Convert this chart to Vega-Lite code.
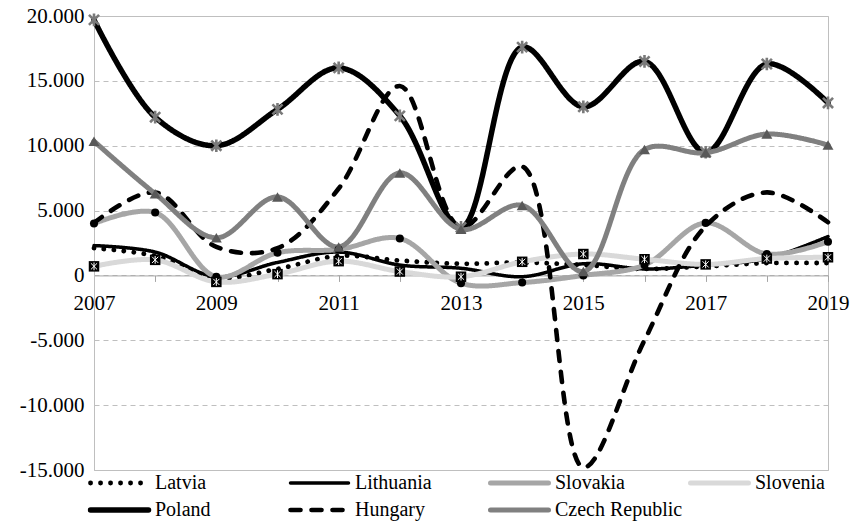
{
  "$schema": "https://vega.github.io/schema/vega-lite/v6.json",
  "width": 734,
  "height": 454,
  "autosize": {"type": "none"},
  "padding": {"left": 94, "top": 16, "right": 22, "bottom": 51},
  "background": "white",
  "config": {
    "view": {"stroke": "#bfbfbf", "strokeWidth": 1},
    "font": "Liberation Serif, Times New Roman, serif",
    "legend": {
      "direction": "horizontal",
      "columns": 4,
      "symbolType": "stroke",
      "symbolSize": 3364,
      "clipHeight": 20,
      "rowPadding": 7,
      "columnPadding": 5,
      "gridAlign": "all",
      "labelFontSize": 20,
      "labelFont": "Liberation Serif, Times New Roman, serif",
      "labelColor": "#000000",
      "labelOffset": 3.5,
      "padding": 0,
      "labelLimit": 300
    }
  },
  "data": {
    "values": [
      {"country": "Latvia", "year": 2007, "value": 2100},
      {"country": "Latvia", "year": 2008, "value": 1500},
      {"country": "Latvia", "year": 2009, "value": -200},
      {"country": "Latvia", "year": 2010, "value": 500},
      {"country": "Latvia", "year": 2011, "value": 1500},
      {"country": "Latvia", "year": 2012, "value": 1150},
      {"country": "Latvia", "year": 2013, "value": 900},
      {"country": "Latvia", "year": 2014, "value": 1000},
      {"country": "Latvia", "year": 2015, "value": 800},
      {"country": "Latvia", "year": 2016, "value": 500},
      {"country": "Latvia", "year": 2017, "value": 700},
      {"country": "Latvia", "year": 2018, "value": 950},
      {"country": "Latvia", "year": 2019, "value": 950},
      {"country": "Lithuania", "year": 2007, "value": 2300},
      {"country": "Lithuania", "year": 2008, "value": 1800},
      {"country": "Lithuania", "year": 2009, "value": -100},
      {"country": "Lithuania", "year": 2010, "value": 1000},
      {"country": "Lithuania", "year": 2011, "value": 1800},
      {"country": "Lithuania", "year": 2012, "value": 800},
      {"country": "Lithuania", "year": 2013, "value": 550},
      {"country": "Lithuania", "year": 2014, "value": -100},
      {"country": "Lithuania", "year": 2015, "value": 900},
      {"country": "Lithuania", "year": 2016, "value": 500},
      {"country": "Lithuania", "year": 2017, "value": 800},
      {"country": "Lithuania", "year": 2018, "value": 1300},
      {"country": "Lithuania", "year": 2019, "value": 3000},
      {"country": "Slovakia", "year": 2007, "value": 4000},
      {"country": "Slovakia", "year": 2008, "value": 4850},
      {"country": "Slovakia", "year": 2009, "value": -100},
      {"country": "Slovakia", "year": 2010, "value": 1750},
      {"country": "Slovakia", "year": 2011, "value": 2000},
      {"country": "Slovakia", "year": 2012, "value": 2850},
      {"country": "Slovakia", "year": 2013, "value": -600},
      {"country": "Slovakia", "year": 2014, "value": -550},
      {"country": "Slovakia", "year": 2015, "value": 0},
      {"country": "Slovakia", "year": 2016, "value": 800},
      {"country": "Slovakia", "year": 2017, "value": 4050},
      {"country": "Slovakia", "year": 2018, "value": 1650},
      {"country": "Slovakia", "year": 2019, "value": 2600},
      {"country": "Slovenia", "year": 2007, "value": 700},
      {"country": "Slovenia", "year": 2008, "value": 1200},
      {"country": "Slovenia", "year": 2009, "value": -500},
      {"country": "Slovenia", "year": 2010, "value": 100},
      {"country": "Slovenia", "year": 2011, "value": 1100},
      {"country": "Slovenia", "year": 2012, "value": 300},
      {"country": "Slovenia", "year": 2013, "value": -100},
      {"country": "Slovenia", "year": 2014, "value": 1050},
      {"country": "Slovenia", "year": 2015, "value": 1650},
      {"country": "Slovenia", "year": 2016, "value": 1250},
      {"country": "Slovenia", "year": 2017, "value": 850},
      {"country": "Slovenia", "year": 2018, "value": 1300},
      {"country": "Slovenia", "year": 2019, "value": 1400},
      {"country": "Poland", "year": 2007, "value": 19700},
      {"country": "Poland", "year": 2008, "value": 12200},
      {"country": "Poland", "year": 2009, "value": 10000},
      {"country": "Poland", "year": 2010, "value": 12800},
      {"country": "Poland", "year": 2011, "value": 16000},
      {"country": "Poland", "year": 2012, "value": 12300},
      {"country": "Poland", "year": 2013, "value": 3700},
      {"country": "Poland", "year": 2014, "value": 17600},
      {"country": "Poland", "year": 2015, "value": 13000},
      {"country": "Poland", "year": 2016, "value": 16500},
      {"country": "Poland", "year": 2017, "value": 9500},
      {"country": "Poland", "year": 2018, "value": 16300},
      {"country": "Poland", "year": 2019, "value": 13300},
      {"country": "Hungary", "year": 2007, "value": 4050},
      {"country": "Hungary", "year": 2008, "value": 6400},
      {"country": "Hungary", "year": 2009, "value": 2200},
      {"country": "Hungary", "year": 2010, "value": 2100},
      {"country": "Hungary", "year": 2011, "value": 6700},
      {"country": "Hungary", "year": 2012, "value": 14600},
      {"country": "Hungary", "year": 2013, "value": 3700},
      {"country": "Hungary", "year": 2014, "value": 8400},
      {"country": "Hungary", "year": 2015, "value": -14800},
      {"country": "Hungary", "year": 2016, "value": -5000},
      {"country": "Hungary", "year": 2017, "value": 3800},
      {"country": "Hungary", "year": 2018, "value": 6400},
      {"country": "Hungary", "year": 2019, "value": 4100},
      {"country": "Czech Republic", "year": 2007, "value": 10350},
      {"country": "Czech Republic", "year": 2008, "value": 6300},
      {"country": "Czech Republic", "year": 2009, "value": 2900},
      {"country": "Czech Republic", "year": 2010, "value": 6050},
      {"country": "Czech Republic", "year": 2011, "value": 2200},
      {"country": "Czech Republic", "year": 2012, "value": 7900},
      {"country": "Czech Republic", "year": 2013, "value": 3550},
      {"country": "Czech Republic", "year": 2014, "value": 5400},
      {"country": "Czech Republic", "year": 2015, "value": 300},
      {"country": "Czech Republic", "year": 2016, "value": 9700},
      {"country": "Czech Republic", "year": 2017, "value": 9450},
      {"country": "Czech Republic", "year": 2018, "value": 10900},
      {"country": "Czech Republic", "year": 2019, "value": 10050}
    ]
  },
  "encoding": {
    "x": {
      "field": "year",
      "type": "quantitative",
      "scale": {"domain": [2007, 2019], "nice": false, "zero": false},
      "axis": {
        "values": [2007, 2008, 2009, 2010, 2011, 2012, 2013, 2014, 2015, 2016, 2017, 2018, 2019],
        "format": "d",
        "labelExpr": "datum.value % 2 == 1 ? datum.label : ''",
        "title": null,
        "grid": false,
        "offset": -194.57,
        "tickSize": 6,
        "labelPadding": 11,
        "labelFlush": false,
        "labelOverlap": false,
        "domainColor": "#a6a6a6",
        "tickColor": "#a6a6a6",
        "labelFontSize": 21,
        "labelFont": "Liberation Serif, Times New Roman, serif",
        "labelColor": "#000000"
      }
    },
    "y": {
      "field": "value",
      "type": "quantitative",
      "scale": {"domain": [-15000, 20000], "nice": false, "zero": false},
      "axis": {
        "values": [-15000, -10000, -5000, 0, 5000, 10000, 15000, 20000],
        "labelExpr": "replace(replace(format(datum.value, ','), ',', '.'), '\u2212', '-')",
        "title": null,
        "ticks": false,
        "labelPadding": 10,
        "domainColor": "#bfbfbf",
        "gridColor": "#bfbfbf",
        "gridDash": [5, 4],
        "labelFontSize": 21,
        "labelFont": "Liberation Serif, Times New Roman, serif",
        "labelColor": "#000000"
      }
    }
  },
  "layer": [
    {
      "mark": {"type": "line", "interpolate": "catmull-rom", "strokeCap": "round", "strokeJoin": "round"},
      "encoding": {
        "color": {
          "field": "country",
          "type": "nominal",
          "scale": {
            "domain": ["Latvia", "Lithuania", "Slovakia", "Slovenia", "Poland", "Hungary", "Czech Republic"],
            "range": ["#000000", "#000000", "#a6a6a6", "#d9d9d9", "#000000", "#000000", "#808080"]
          },
          "legend": {
            "title": null,
            "orient": "none",
            "legendX": -6.5,
            "legendY": 457,
            "encode": {"symbols": {"update": {"strokeCap": {"value": "round"}}}}
          }
        },
        "strokeDash": {
          "field": "country",
          "type": "nominal",
          "scale": {
            "domain": ["Latvia", "Lithuania", "Slovakia", "Slovenia", "Poland", "Hungary", "Czech Republic"],
            "range": [[0.1, 9.9], [1, 0], [1, 0], [1, 0], [1, 0], [10, 11], [1, 0]]
          },
          "legend": {"title": null}
        },
        "strokeWidth": {
          "field": "country",
          "type": "nominal",
          "scale": {
            "type": "ordinal",
            "domain": ["Latvia", "Lithuania", "Slovakia", "Slovenia", "Poland", "Hungary", "Czech Republic"],
            "range": [4.8, 3.5, 5, 5, 5.5, 4.6, 5]
          },
          "legend": {"title": null}
        }
      }
    },
    {
      "transform": [{"filter": "datum.country == 'Slovakia'"}],
      "mark": {"type": "point", "shape": "circle", "filled": true, "color": "#000000", "size": 65, "opacity": 1}
    },
    {
      "transform": [{"filter": "datum.country == 'Slovenia'"}],
      "mark": {"type": "point", "shape": "square", "filled": true, "color": "#000000", "size": 110, "opacity": 1}
    },
    {
      "transform": [{"filter": "datum.country == 'Slovenia'"}],
      "mark": {"type": "point", "shape": "M-0.8,-0.8L0.8,0.8M-0.8,0.8L0.8,-0.8M0,-1L0,1", "filled": false, "stroke": "#ffffff", "strokeWidth": 1, "size": 60, "opacity": 1}
    },
    {
      "transform": [{"filter": "datum.country == 'Poland'"}],
      "mark": {"type": "point", "shape": "M-0.8,-0.8L0.8,0.8M-0.8,0.8L0.8,-0.8M0,-1L0,1", "filled": false, "stroke": "#7a7a7a", "strokeWidth": 2.6, "size": 160, "opacity": 1}
    },
    {
      "transform": [{"filter": "datum.country == 'Czech Republic'"}],
      "mark": {"type": "point", "shape": "triangle-up", "filled": true, "color": "#595959", "size": 120, "opacity": 1}
    }
  ]
}
